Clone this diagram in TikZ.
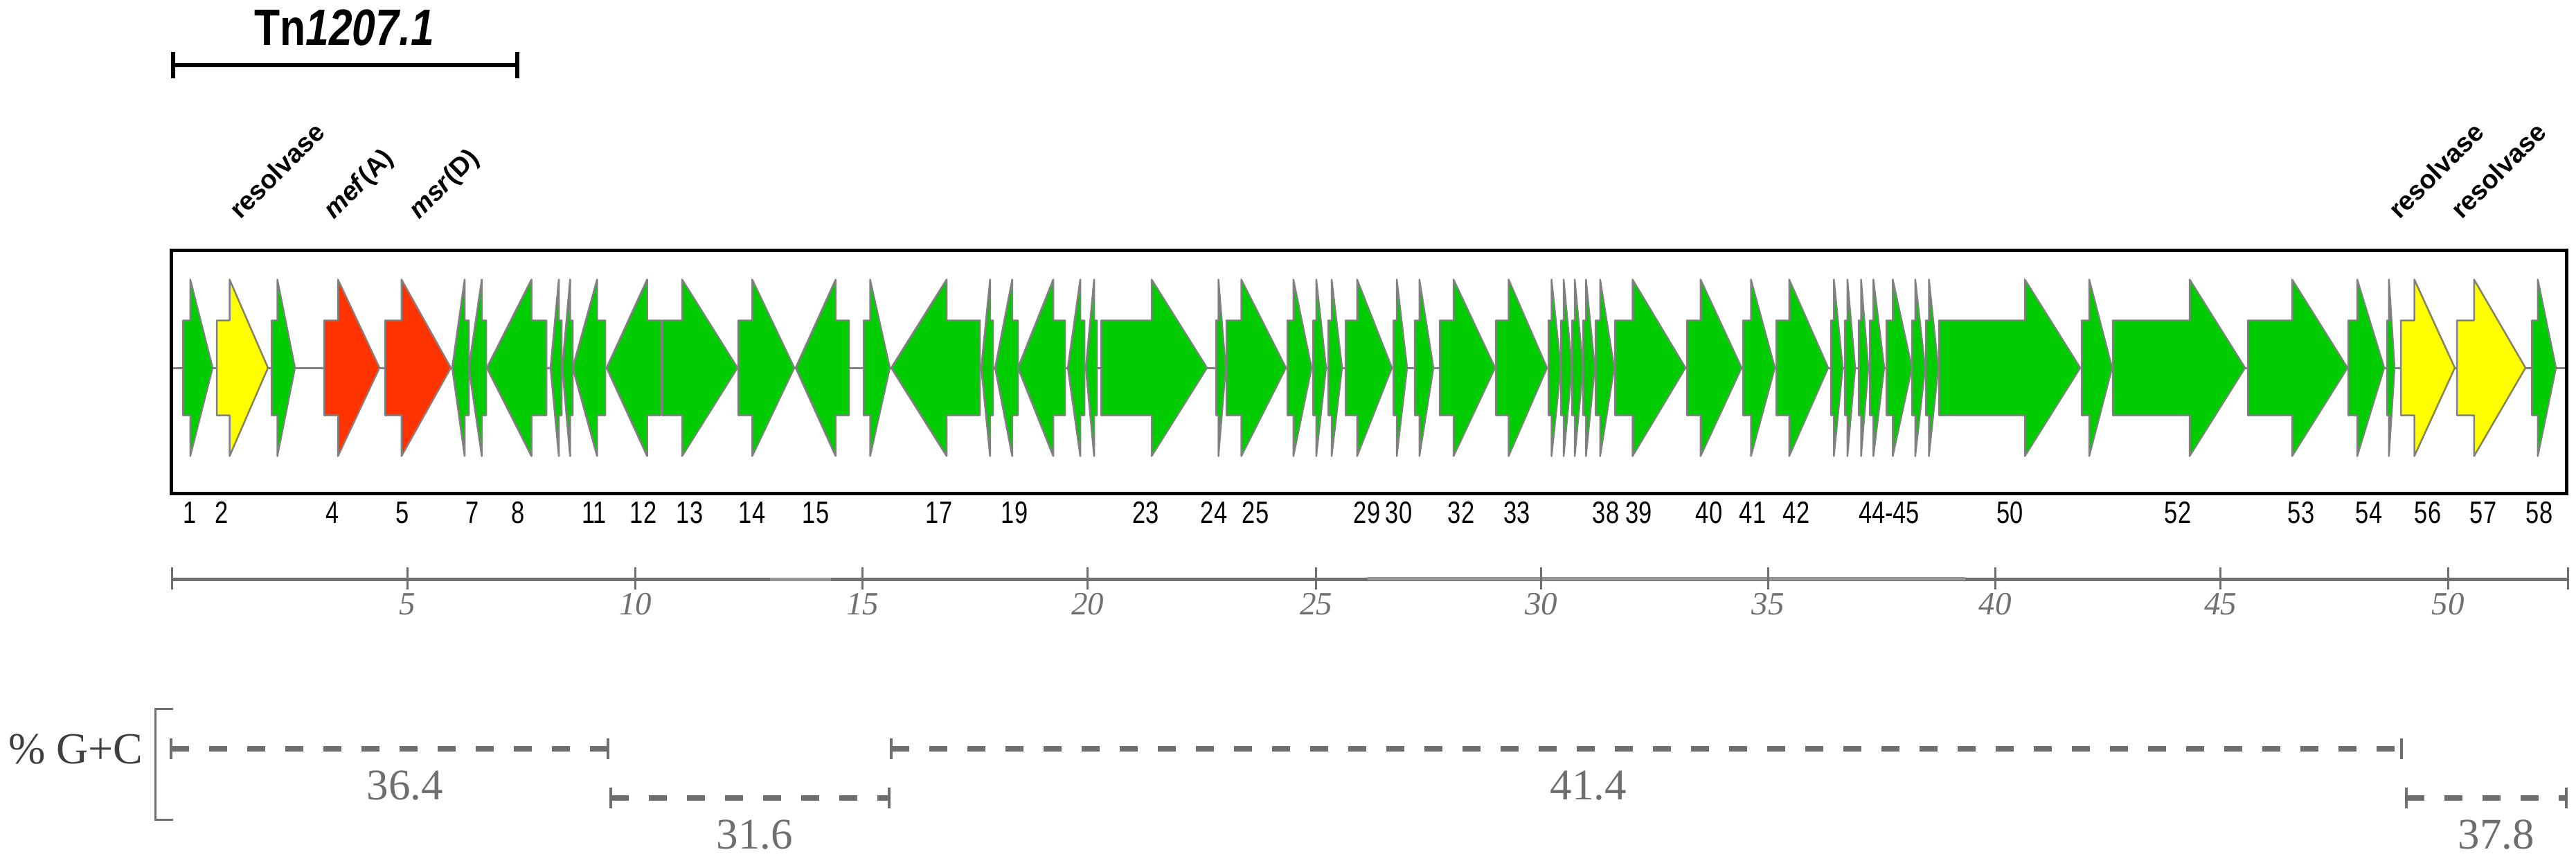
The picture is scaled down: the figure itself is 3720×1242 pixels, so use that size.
\documentclass[tikz,border=0pt]{standalone}
\usepackage{fontspec}
\setmainfont{Liberation Serif}
\newfontfamily\numfont[FakeStretch=0.77]{Liberation Sans}
\newfontfamily\titlefont[FakeStretch=0.82]{Liberation Sans}
\newfontfamily\labfont{Liberation Sans}
\definecolor{geneG}{RGB}{0,204,0}
\definecolor{geneY}{RGB}{255,255,0}
\definecolor{geneR}{RGB}{255,51,0}
\definecolor{outl}{RGB}{128,128,128}
\definecolor{axisc}{RGB}{112,112,112}
\definecolor{axisl}{RGB}{150,150,150}
\definecolor{gcc}{RGB}{110,110,110}
\begin{document}
\begin{tikzpicture}[x=1pt,y=-1pt,
  genebox/.style={draw=outl,line width=2.5pt,line join=round},
  gnum/.style={font=\numfont\fontsize{44.7}{50}\selectfont,anchor=base,inner sep=0pt},
  glab/.style={font=\labfont\bfseries\fontsize{38}{42}\selectfont,anchor=base west,inner sep=0pt,rotate=45},
  sclab/.style={font=\itshape\fontsize{47}{50}\selectfont,text=axisc,anchor=base,inner sep=0pt},
  gclab/.style={font=\fontsize{63}{66}\selectfont,text=gcc,anchor=base,inner sep=0pt},
  gcbar/.style={draw=gcc,line width=8pt,dash pattern=on 26pt off 29pt},
  gctick/.style={draw=gcc,line width=4pt}]
\fill[white] (0,0) rectangle (3720,1242);
\useasboundingbox (0,0) rectangle (3720,1242);
% title and bracket
\node[font=\titlefont\bfseries\fontsize{74}{80}\selectfont,anchor=base,inner sep=0pt] (title) at (497,65) {Tn\textit{1207.1}};
\draw[line width=6pt] (250,94) -- (747,94);
\draw[line width=6pt] (250,75) -- (250,113);
\draw[line width=6pt] (747,75) -- (747,113);
% rotated gene names
\node[glab] (res1) at (347,318) {resolvase};
\node[glab] (mef) at (482,318) {\textit{mef}(A)};
\node[glab] (msr) at (605,318) {\textit{msr}(D)};
\node[glab] (res2) at (3465,318) {resolvase};
\node[glab] (res3) at (3555,318) {resolvase};
% box and backbone
\draw[outl,line width=3pt] (247,531) -- (3706,531);
\foreach \tl/\tp/\cc in {264/307/geneG, 313/387/geneY, 392/426/geneG, 468/548/geneR, 556/651/geneR,
  677/653/geneG, 702/677/geneG, 789/703/geneG, 811/795/geneG, 827/812/geneG, 874/827/geneG,
  954/876/geneG, 956/1065/geneG, 1066/1147/geneG, 1226/1149/geneG, 1247/1285/geneG, 1415/1287/geneG,
  1434/1417/geneG, 1470/1437/geneG, 1538/1470/geneG, 1566/1542/geneG, 1584/1568/geneG,
  1590/1743/geneG, 1756/1770/geneG, 1771/1857/geneG, 1859/1894/geneG, 1896/1915/geneG, 1918/1938/geneG,
  1943/2010/geneG, 2012/2032/geneG, 2043/2070/geneG, 2079/2159/geneG, 2160/2234/geneG,
  2236/2254/geneG, 2254/2270/geneG, 2270/2286/geneG, 2286/2303/geneG, 2304/2331/geneG,
  2332/2434/geneG, 2436/2515/geneG, 2517/2563/geneG, 2565/2640/geneG,
  2644/2661/geneG, 2664/2679/geneG, 2684/2698/geneG, 2700/2721/geneG, 2724/2761/geneG, 2761/2780/geneG, 2781/2799/geneG,
  2800/3004/geneG, 3006/3050/geneG, 3051/3242/geneG, 3246/3390/geneG, 3391/3443/geneG, 3447/3458/geneG,
  3467/3545/geneY, 3548/3647/geneY, 3656/3691/geneG}{
  \pgfmathsetmacro\hb{\tp-((\tp>\tl)*2-1)*min(0.75*abs(\tp-\tl),80)}
  \filldraw[genebox,fill=\cc] (\tl,462.5) -- (\hb,462.5) -- (\hb,403.5) -- (\tp,531) -- (\hb,658.5) -- (\hb,599.5) -- (\tl,599.5) -- cycle;
}
\draw[line width=5pt] (247,361) rectangle (3706,712);
% gene numbers
\foreach \x/\t [count=\i] in {273.7/1, 320/2, 480/4, 580.6/5, 682/7, 748/8, 858/11, 929/12, 996/13, 1086/14,
  1178/15, 1356/17, 1465/19, 1654.5/23, 1753/24, 1813/25, 1974/29, 2020/30, 2110/32, 2190.5/33,
  2319/38, 2366.5/39, 2468/40, 2531/41, 2594/42, 2728/44-45, 2902.5/50, 3145/52, 3323/53, 3421/54,
  3506/56, 3586/57, 3667/58}{
  \node[gnum] (num\i) at (\x,755) {\t};
}
% scale axis
\draw[axisc,line width=5pt] (248,836) -- (3708,836);
\draw[axisl,line width=5pt] (1112,836) -- (1200,836);
\draw[axisl,line width=5pt] (1975,835) -- (2838,835);
\draw[axisc,line width=3pt] (248,819) -- (248,851);
\draw[axisc,line width=3pt] (3708,819) -- (3708,851);
\foreach \x/\t [count=\i] in {588/5, 917.5/10, 1245.6/15, 1570.6/20, 1900.7/25, 2225.7/30, 2553/35, 2881/40, 3206.6/45, 3535/50}{
  \draw[axisc,line width=3pt] (\x,819) -- (\x,851);
  \node[sclab] (sc\i) at (\x,887) {\t};
}
% G+C
\node[font=\fontsize{64}{66}\selectfont,text=black!75,anchor=base west,inner sep=0pt] (gclabel) at (12,1102) {\% G+C};
\draw[gcc,line width=3pt] (250,1023) -- (224,1023) -- (224,1183) -- (250,1183);
\foreach \a/\b/\y/\t/\m [count=\i] in {247/878/1081/36.4/585, 882/1284/1152/31.6/1090, 1287/3468/1081/41.4/2294, 3475/3706/1152/37.8/3605}{
  \draw[gcbar] (\a,\y) -- (\b,\y);
  \draw[gctick] (\a,\y-15) -- (\a,\y+15);
  \draw[gctick] (\b,\y-15) -- (\b,\y+15);
  \node[gclab] (gc\i) at (\m,\y+73) {\t};
}
\end{tikzpicture}
\end{document}
